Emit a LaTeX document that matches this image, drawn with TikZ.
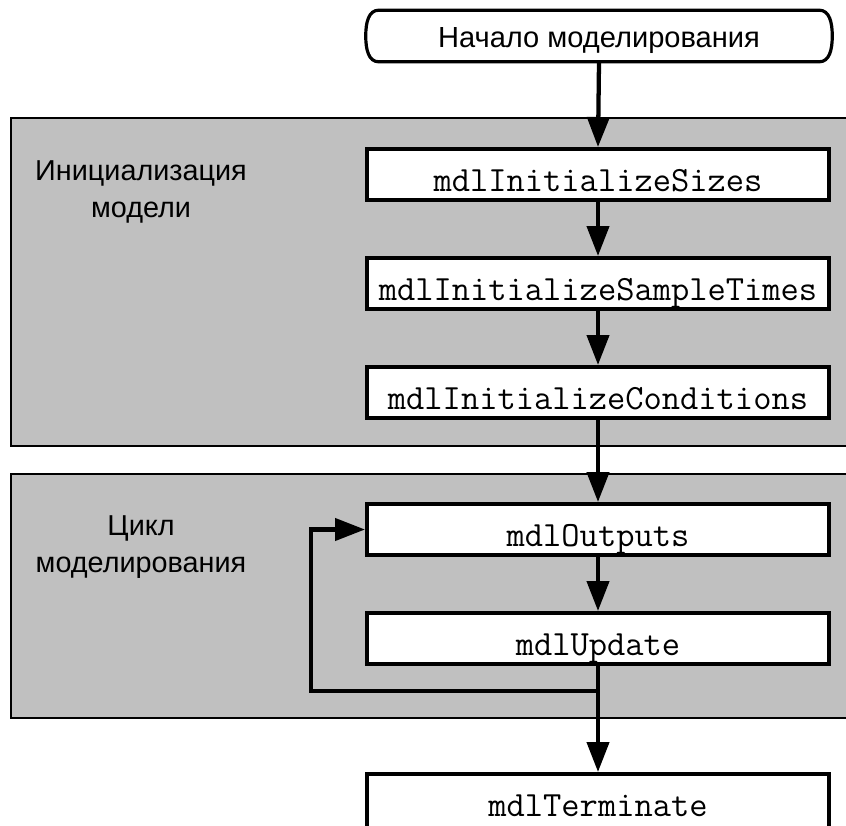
\documentclass[tikz,border=0pt]{standalone}
\usepackage{fontspec}
\setmainfont{Liberation Sans}
\usetikzlibrary{arrows.meta,calc}
\definecolor{panelgray}{RGB}{192,192,192}
\begin{document}
\begin{tikzpicture}[x=0.75pt,y=-0.75pt,
  panel/.style={fill=panelgray,draw=black,line width=1.3pt},
  fn/.style={draw=black,fill=white,line width=3pt,minimum width=346.5pt,
    inner xsep=0pt,inner ysep=0pt,text height=32pt,text depth=6.25pt,
    font=\ttfamily\fontsize{26.6}{29}\selectfont},
  flow/.style={line width=3.2pt,-{Triangle[length=22.5pt,width=16.5pt]}},
  lbl/.style={align=center,font=\fontsize{21.6}{27.75}\selectfont},
  startline/.style={draw=black,line width=2.4pt,line join=round}]
\useasboundingbox (0,0) rectangle (846,825);
\clip (0,0) rectangle (846,825);

% grey group panels (open to the right)
\draw[panel] (11,118) rectangle (860,446);
\draw[panel] (11,474) rectangle (860,718);

% group captions
\node[lbl] (initlbl) at (141,192) {Инициализация\\модели};
\node[lbl] (looplbl) at (141,547) {Цикл\\моделирования};

% start terminator
\node[inner xsep=0pt,inner ysep=0pt,minimum width=349.5pt,
      text height=27.4pt,text depth=10.9pt,
      font=\fontsize{21.8}{25}\selectfont] (start) at (599,36) {Начало моделирования};
\draw[startline]
  ($(start.north west)+(13,0)$) -- ($(start.north east)+(-13,0)$)
  .. controls ($(start.north east)+(-3,0)$) and ($(start.east)+(0,-14)$) .. (start.east)
  .. controls ($(start.east)+(0,14)$) and ($(start.south east)+(-3,0)$) .. ($(start.south east)+(-13,0)$)
  -- ($(start.south west)+(13,0)$)
  .. controls ($(start.south west)+(3,0)$) and ($(start.west)+(0,14)$) .. (start.west)
  .. controls ($(start.west)+(0,-14)$) and ($(start.north west)+(3,0)$) .. cycle;

% callback boxes
\node[fn] (sizes)   at (598,174.5) {mdlInitializeSizes};
\node[fn] (sample)  at (598,283.5) {mdlInitializeSampleTimes};
\node[fn] (conds)   at (598,392.5) {mdlInitializeConditions};
\node[fn] (outputs) at (598,529.5) {mdlOutputs};
\node[fn] (update)  at (598,638.5) {mdlUpdate};
\node[fn,anchor=north,text depth=12pt] (term) at (598,772) {mdlTerminate};

% control flow
\draw[flow] (start.south) -- (sizes.north);
\draw[flow] (sizes.south) -- (sample.north);
\draw[flow] (sample.south) -- (conds.north);
\draw[flow] (conds.south) -- (outputs.north);
\draw[flow] (outputs.south) -- (update.north);
\draw[flow] (update.south) -- (term.north);

% simulation loop back to mdlOutputs
\coordinate (split) at (598,691);
\coordinate (back) at (311,691);
\draw[flow] (split) -- (back) |- (outputs.west);
\end{tikzpicture}
\end{document}
